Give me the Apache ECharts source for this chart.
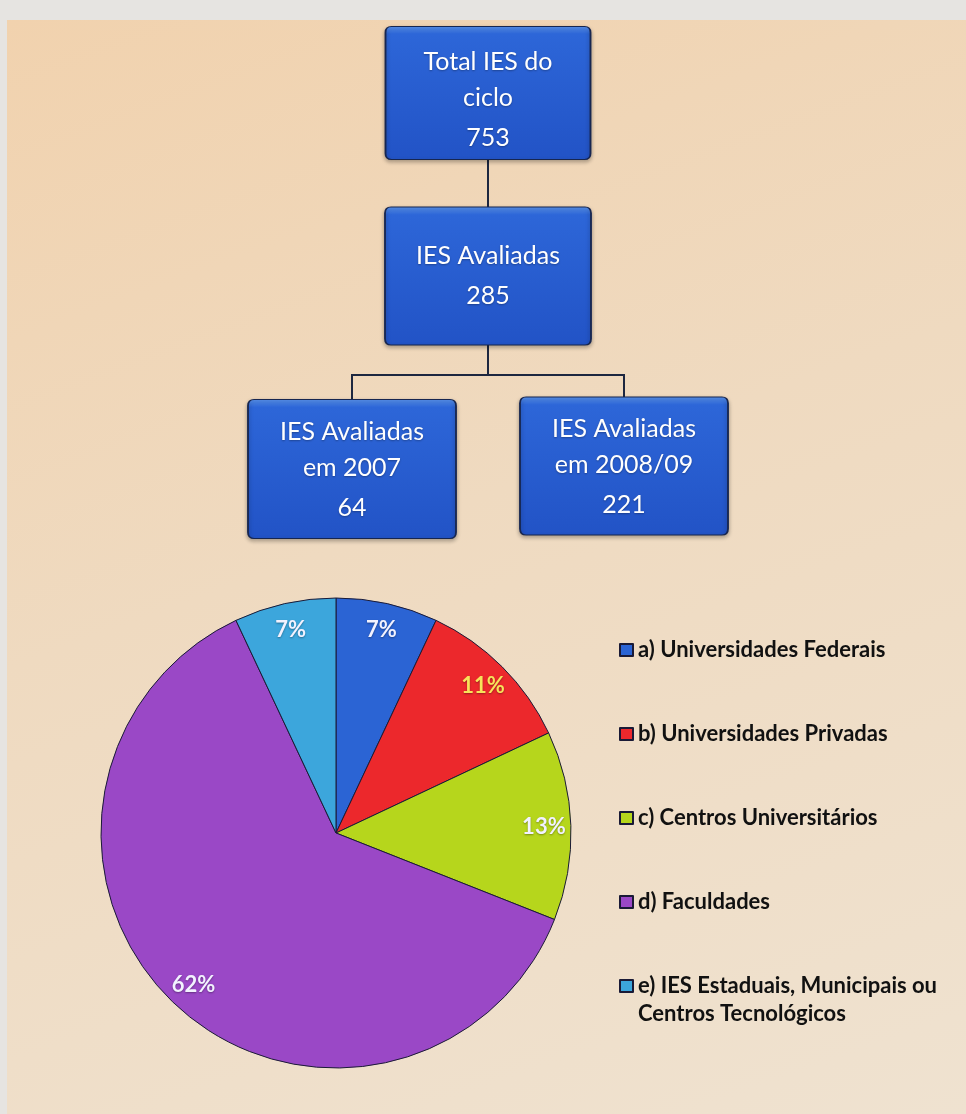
<!DOCTYPE html>
<html>
<head>
<meta charset="utf-8">
<title>IES avaliadas</title>
<script src="https://cdn.jsdelivr.net/npm/echarts@6/dist/echarts.min.js"></script>
<style>
  html, body {
    margin: 0;
    width: 966px;
    height: 1114px;
    background: #e6e4e1;
    overflow: hidden;
  }
  #chart {
    position: absolute;
    left: 7px;
    top: 20px;
    width: 959px;
    height: 1094px;
    background: linear-gradient(160deg, #f1d2ae 0%, #efdac0 45%, #efe2d0 100%);
  }
</style>
</head>
<body>
<div id="chart"></div>
<script>
/* 组织结构：节点标题、数量、父节点下标 */
const nodeTitles = ['Total IES do\nciclo', 'IES Avaliadas', 'IES Avaliadas\nem 2007', 'IES Avaliadas\nem 2008/09']
const nodeCounts = [753, 285, 64, 221]
const nodeParents = [-1, 0, 1, 1]

/* 饼图：类别与百分比 */
const pieCategories = [
  'a) Universidades Federais',
  'b) Universidades Privadas',
  'c) Centros Universitários',
  'd) Faculdades',
  'e) IES Estaduais, Municipais ou\nCentros Tecnológicos'
]
const pieValues = [7, 11, 13, 62, 7]

/* 样式（与数据分开） */
const pieColors = ['#2b64d4', '#ec282c', '#b6d61c', '#9a48c6', '#3ca6dc']
const pieLabelColors = ['#f2f2ff', '#f8e35a', '#f2f2ff', '#f2f2ff', '#f2f2ff']
const nodeSizes = [[205, 133], [206, 138], [208, 139], [208, 138]]
const nodeShifts = [[0, 0], [0, -5], [0, 0], [0, -3]]
const labelShifts = [9, 2, 3, 3]

const boxPath = 'path://M6,0H199Q205,0 205,6V127Q205,133 199,133H6Q0,133 0,127V6Q0,0 6,0Z'

// 递归生成树节点
function buildNode(i) {
  return {
    name: nodeTitles[i],
    value: nodeCounts[i],
    symbolSize: nodeSizes[i],
    symbolOffset: nodeShifts[i],
    label: { offset: [0, labelShifts[i]] },
    children: nodeParents
      .map((p, j) => (p === i ? j : -1))
      .filter(j => j >= 0)
      .map(buildNode)
  }
}

const chart = echarts.init(document.getElementById('chart'))

chart.setOption({
  animation: false,
  /* 图例：多行文字时第一行与图标对齐 */
  legend: {
    orient: 'vertical',
    left: 612,
    top: 619,
    padding: 0,
    itemGap: 62,
    itemWidth: 13,
    itemHeight: 12,
    icon: 'rect',
    selectedMode: false,
    formatter: name => name.split('\n').map(s => `{e|${s}}`).join('\n'),
    textStyle: {
      height: 28,
      rich: {
        e: {
          fontFamily: 'Lato',
          fontWeight: 'bold',
          fontSize: 22,
          lineHeight: 28,
          color: '#111111'
        }
      }
    },
    data: pieCategories
  },
  series: [
    /* 上方结构图 */
    {
      type: 'tree',
      data: [buildNode(0)],
      orient: 'TB',
      left: 209,
      right: 206,
      top: 73,
      bottom: 645,
      symbol: boxPath,
      edgeShape: 'polyline',
      expandAndCollapse: false,
      initialTreeDepth: -1,
      roam: false,
      itemStyle: {
        color: {
          type: 'linear', x: 0, y: 0, x2: 0, y2: 1,
          colorStops: [
            { offset: 0, color: '#5a94ee' },
            { offset: 0.06, color: '#2d66d8' },
            { offset: 1, color: '#2253c6' }
          ]
        },
        borderColor: '#172650',
        borderWidth: 1.5,
        shadowBlur: 4,
        shadowOffsetY: 2,
        shadowColor: 'rgba(0,0,0,0.3)'
      },
      lineStyle: {
        color: '#1d2740',
        width: 2
      },
      label: {
        position: 'inside',
        formatter: params => {
          const lines = params.name.split('\n').map(s => `{t|${s}}`)
          lines.push(`{n|${params.value}}`)
          return lines.join('\n')
        },
        rich: {
          t: { fontFamily: 'Lato', fontSize: 25, lineHeight: 36, color: '#ffffff' },
          n: { fontFamily: 'Lato', fontSize: 25, lineHeight: 44, color: '#ffffff' }
        },
        textShadowColor: 'rgba(0,0,0,0.3)',
        textShadowBlur: 2,
        textShadowOffsetY: 1
      },
      leaves: {
        label: { position: 'inside' }
      },
      emphasis: { disabled: true }
    },
    /* 饼图 */
    {
      type: 'pie',
      center: [329, 813],
      radius: 235,
      startAngle: 90,
      label: { show: false },
      labelLine: { show: false },
      itemStyle: {
        borderColor: '#1a1a36',
        borderWidth: 1
      },
      emphasis: { disabled: true },
      data: pieCategories.map((name, i) => ({
        name,
        value: pieValues[i],
        itemStyle: { color: pieColors[i] }
      }))
    },
    /* 饼图百分比标签（外圈位置） */
    {
      type: 'pie',
      center: [329, 813],
      radius: [175, 235],
      startAngle: 90,
      silent: true,
      itemStyle: { color: 'rgba(0,0,0,0)' },
      labelLine: { show: false },
      label: {
        position: 'inside',
        formatter: '{c}%',
        fontFamily: 'Lato',
        fontWeight: 'bold',
        fontSize: 22,
        textShadowColor: 'rgba(0,0,0,0.35)',
        textShadowBlur: 2,
        textShadowOffsetY: 1
      },
      data: pieCategories.map((name, i) => ({
        name,
        value: pieValues[i],
        label: { color: pieLabelColors[i] }
      }))
    }
  ]
})
</script>
</body>
</html>
